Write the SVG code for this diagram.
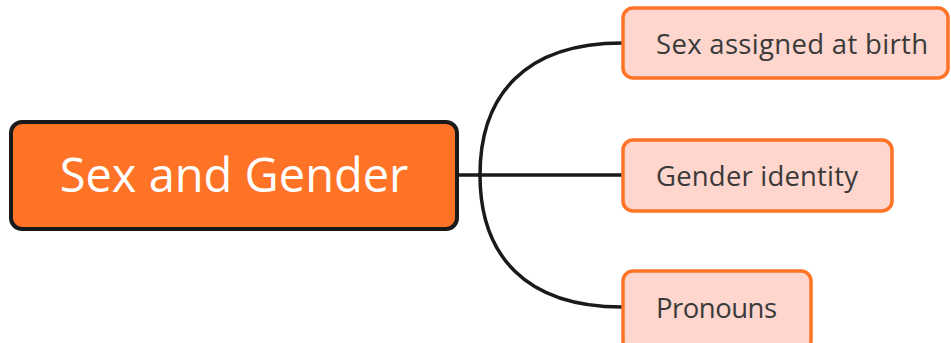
<svg xmlns="http://www.w3.org/2000/svg" width="951" height="343" viewBox="0 0 951 343">
<style>
.conn{fill:none;stroke:#1a1a1a;stroke-width:3.5;stroke-linecap:round}
.child rect{fill:#FFD6CD;stroke:#FF7327;stroke-width:3.5}
.child text{font-family:"Open Sans",sans-serif;font-size:27.5px;fill:#3a3a3a}
</style>
<rect width="951" height="343" fill="#ffffff"/>
<g id="connectors">
<path class="conn" d="M458,175 L480,175"/>
<path class="conn" d="M480,175 C480,95 525,43 622,43"/>
<path class="conn" d="M480,175 L622,175"/>
<path class="conn" d="M480,175 C480,255 525,307 622,307"/>
</g>
<g id="main">
<rect x="11" y="122" width="446" height="107" rx="11" fill="#FF7327" stroke="#1a1a1a" stroke-width="4"/>
<text x="234" y="192" text-anchor="middle" font-family="'Open Sans',sans-serif" font-size="47" font-weight="500" fill="#ffffff">Sex and Gender</text>
</g>
<g id="n1" class="child">
<rect x="623" y="8" width="325" height="70" rx="10"/>
<text x="656" y="54" textLength="272">Sex assigned at birth</text>
</g>
<g id="n2" class="child">
<rect x="623" y="140" width="269" height="71" rx="10"/>
<text x="656" y="186" textLength="202">Gender identity</text>
</g>
<g id="n3" class="child">
<rect x="623" y="271" width="188" height="80" rx="10"/>
<text x="656" y="318" textLength="121">Pronouns</text>
</g>
</svg>
